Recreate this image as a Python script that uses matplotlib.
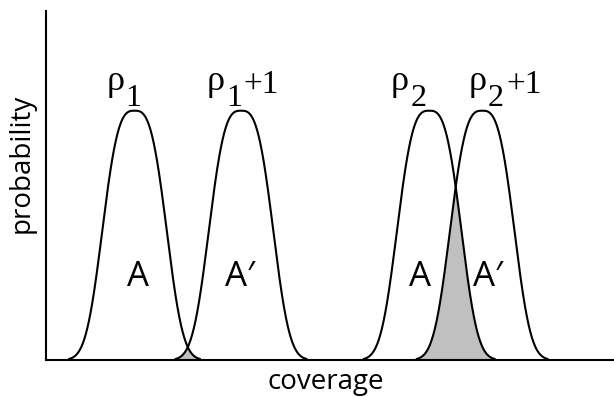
import numpy as np
import matplotlib
matplotlib.use("Agg")
import matplotlib.pyplot as plt

# ---- data (schematic coverage distributions) ----
peak_labels_base = ["1", "1", "2", "2"]      # subscript of rho
peak_labels_suffix = ["", "+1", "", "+1"]
area_labels = ["A", "A\u2032", "A", "A\u2032"]
means = [1.67, 3.68, 7.23, 8.23]             # peak positions (coverage)
spread = 0.70                                 # width parameter
exponent = 3.0                                # shape exponent
support = 1.25                                # half-width of drawn support
overlap_pairs = [(0, 1), (2, 3)]

def density(x, mu):
    return np.exp(-(np.abs(x - mu) / spread) ** exponent)

W, H, DPI = 614, 397, 100
fig = plt.figure(figsize=(W / DPI, H / DPI), dpi=DPI)
ax = fig.add_axes([46 / W, (H - 360) / H, (W - 46) / W, (360 - 11) / H])
ax.set_xlim(0, (W - 46) / 53)
ax.set_ylim(0, 349 / 249.3)

# shaded overlaps
for i, j in overlap_pairs:
    xs = np.linspace(means[i] - support, means[j] + support, 800)
    ys = np.minimum(density(xs, means[i]), density(xs, means[j]))
    ax.fill_between(xs, 0, ys, color="#c0c0c0", lw=0, zorder=1)

# curves
for mu in means:
    xs = np.linspace(mu - support, mu + support, 600)
    ax.plot(xs, density(xs, mu), color="black", lw=1.5, zorder=3,
            solid_capstyle="butt")

for s in ["top", "right"]:
    ax.spines[s].set_visible(False)
for s in ["left", "bottom"]:
    ax.spines[s].set_linewidth(1.5)
    ax.spines[s].set_zorder(4)
ax.set_xticks([])
ax.set_yticks([])
ax.patch.set_visible(False)

def px(p):
    return p * 72 / DPI  # pixels -> points

serif = ["Liberation Serif", "DejaVu Serif"]
sans = ["Open Sans", "DejaVu Sans"]

# rho labels: offsets (pixels) relative to the peak
rho_dx = [-28, -34, -39, -14]
sub_gap = [19, 19, 20, 19]
suffix_gap = [0, 36, 0, 38]
for k, mu in enumerate(means):
    top = density(mu, mu)
    ax.annotate("\u03c1", xy=(mu, top), xytext=(px(rho_dx[k]), px(111 - 90)),
                textcoords="offset points", ha="left", va="baseline",
                fontsize=26, family=serif)
    ax.annotate(peak_labels_base[k], xy=(mu, top),
                xytext=(px(rho_dx[k] + sub_gap[k]), px(111 - 106)),
                textcoords="offset points", ha="left", va="baseline",
                fontsize=23, family=serif)
    if peak_labels_suffix[k]:
        ax.annotate(peak_labels_suffix[k], xy=(mu, top),
                    xytext=(px(rho_dx[k] + suffix_gap[k]), px(111 - 93)),
                    textcoords="offset points", ha="left", va="baseline",
                    fontsize=24, family=serif)

# area labels
area_dx = [3, -1, -9, 6]
for k, mu in enumerate(means):
    ax.annotate(area_labels[k], xy=(mu, 0), xytext=(px(area_dx[k]), px(360 - 286)),
                textcoords="offset points", ha="center", va="baseline",
                fontsize=25, family=sans)

fig.text(22 / W, (H - 163) / H, "probability", rotation=90, ha="center",
         va="center", fontsize=20, family=sans)
fig.text(325.5 / W, (H - 388.7) / H, "coverage", ha="center", va="baseline",
         fontsize=20, family=sans)

fig.savefig("out.png", dpi=DPI)
